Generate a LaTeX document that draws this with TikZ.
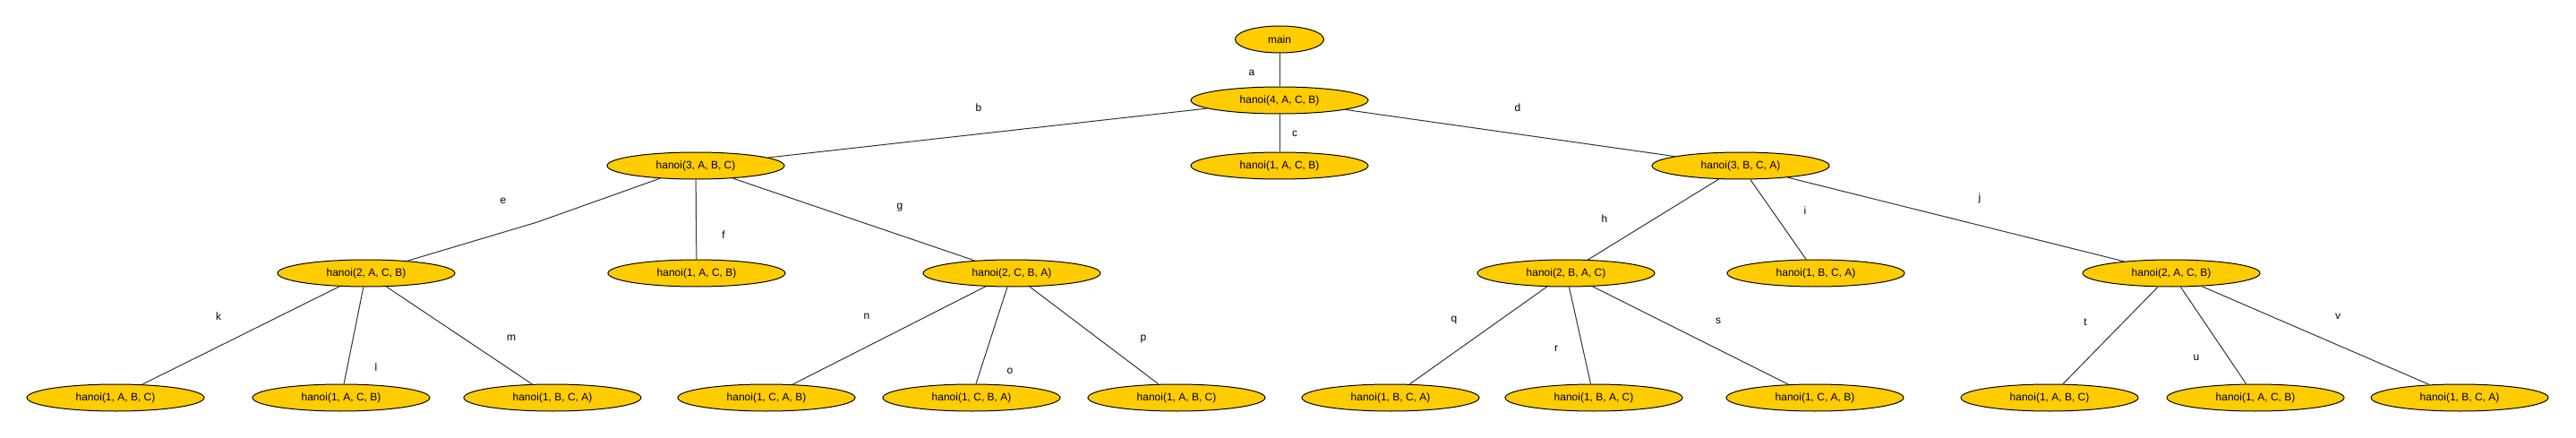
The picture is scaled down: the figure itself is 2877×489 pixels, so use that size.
\documentclass[tikz,border=0pt]{standalone}
\usepackage{fontspec}
\setmainfont{Liberation Sans}
\usetikzlibrary{shapes.geometric}
\definecolor{callfill}{HTML}{FFCC00}
\definecolor{edgegray}{HTML}{333333}
\tikzset{
call/.style={ellipse, draw=black, fill=callfill, line width=1pt, minimum width=198pt, minimum height=30pt, inner sep=0pt, font=\fontsize{12}{14}\selectfont}, % sets the properties for each call
lbl/.style={inner sep=0pt, font=\fontsize{12}{14}\selectfont}, % the letters next to the edges
every edge/.style={draw=edgegray, line width=1pt}, % plain undirected edges
}

\begin{document}
\begin{tikzpicture}[x=1pt, y=-1pt]
        \useasboundingbox (0,0) rectangle (2877,489);
        % calls, one row per level
        \node[call, minimum width=99pt] (main) at (1429,44) {main};
        \node[call] (h4) at (1429,112) {hanoi(4, A, C, B)};
        \node[call] (h3a) at (777,185) {hanoi(3, A, B, C)};
        \node[call] (h1a) at (1429,185) {hanoi(1, A, C, B)};
        \node[call] (h3b) at (1944,185) {hanoi(3, B, C, A)};
        \node[call] (h2a) at (409,305) {hanoi(2, A, C, B)};
        \node[call] (h1b) at (778,305) {hanoi(1, A, C, B)};
        \node[call] (h2b) at (1130,305) {hanoi(2, C, B, A)};
        \node[call] (h2c) at (1749,305) {hanoi(2, B, A, C)};
        \node[call] (h1c) at (2028,305) {hanoi(1, B, C, A)};
        \node[call] (h2d) at (2425,305) {hanoi(2, A, C, B)};
        \node[call] (l1) at (129,444) {hanoi(1, A, B, C)};
        \node[call] (l2) at (381,444) {hanoi(1, A, C, B)};
        \node[call] (l3) at (617,444) {hanoi(1, B, C, A)};
        \node[call] (l4) at (856,444) {hanoi(1, C, A, B)};
        \node[call] (l5) at (1085,444) {hanoi(1, C, B, A)};
        \node[call] (l6) at (1314,444) {hanoi(1, A, B, C)};
        \node[call] (l7) at (1553,444) {hanoi(1, B, C, A)};
        \node[call] (l8) at (1780,444) {hanoi(1, B, A, C)};
        \node[call] (l9) at (2027,444) {hanoi(1, C, A, B)};
        \node[call] (l10) at (2289,444) {hanoi(1, A, B, C)};
        \node[call] (l11) at (2519,444) {hanoi(1, A, C, B)};
        \node[call] (l12) at (2747,444) {hanoi(1, B, C, A)};
        \coordinate (ebend) at (600,248); % the one edge with a bend
        \draw (main) edge (h4)
                (h4) edge (h3a)
                (h4) edge (h1a)
                (h4) edge (h3b)
                (h3a) edge (ebend)
                (ebend) edge (h2a)
                (h3a) edge (h1b)
                (h3a) edge (h2b)
                (h3b) edge (h2c)
                (h3b) edge (h1c)
                (h3b) edge (h2d)
                (h2a) edge (l1)
                (h2a) edge (l2)
                (h2a) edge (l3)
                (h2b) edge (l4)
                (h2b) edge (l5)
                (h2b) edge (l6)
                (h2c) edge (l7)
                (h2c) edge (l8)
                (h2c) edge (l9)
                (h2d) edge (l10)
                (h2d) edge (l11)
                (h2d) edge (l12);
        % edge letters
        \node[lbl] (la) at (1398,81) {a};
        \node[lbl] (lb) at (1093,120) {b};
        \node[lbl] (lc) at (1446,149) {c};
        \node[lbl] (ld) at (1695,120) {d};
        \node[lbl] (le) at (562,224) {e};
        \node[lbl] (lf) at (808,262) {f};
        \node[lbl] (lg) at (1005,232) {g};
        \node[lbl] (lh) at (1792,244) {h};
        \node[lbl] (li) at (2016,235) {i};
        \node[lbl] (lj) at (2211,221) {j};
        \node[lbl] (lk) at (244,353) {k};
        \node[lbl] (ll) at (420,410) {l};
        \node[lbl] (lm) at (571,377) {m};
        \node[lbl] (ln) at (968,353) {n};
        \node[lbl] (lo) at (1128,414) {o};
        \node[lbl] (lp) at (1277,379) {p};
        \node[lbl] (lq) at (1624,358) {q};
        \node[lbl] (lr) at (1738,389) {r};
        \node[lbl] (ls) at (1919,358) {s};
        \node[lbl] (lt) at (2329,360) {t};
        \node[lbl] (lu) at (2453,399) {u};
        \node[lbl] (lv) at (2611,353) {v};
    \end{tikzpicture}
\end{document}
